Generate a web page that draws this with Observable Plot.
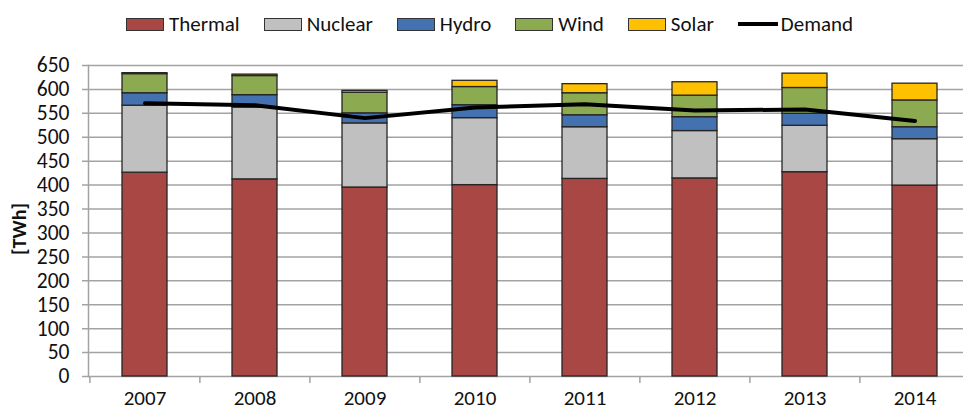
<!DOCTYPE html>
<html>
<head>
<meta charset="utf-8">
<script src="https://cdn.jsdelivr.net/npm/d3@7"></script>
<script src="https://cdn.jsdelivr.net/npm/@observablehq/plot@0.6"></script>
<style>
  html, body { margin: 0; padding: 0; background: #fff; font-family: Carlito, "Liberation Sans Narrow", "DejaVu Sans Condensed", sans-serif; overflow: hidden; }
  #legend { height: 48px; display: flex; align-items: center; padding-left: 126px; font-size: 21px; color: #111; box-sizing: border-box; }
  .item { display: flex; align-items: center; margin-right: 24px; }
  .sw { width: 36px; height: 11px; border: 1px solid #333; margin-right: 5px; }
  .ln { width: 40px; height: 4px; background: #000; margin-right: 3px; }
  #chart svg { display: block; }
</style>
</head>
<body>
<div id="legend"></div>
<div id="chart"></div>
<script>
const years = ["2007", "2008", "2009", "2010", "2011", "2012", "2013", "2014"];
const seriesNames = ["Thermal", "Nuclear", "Hydro", "Wind", "Solar"];
const seriesColors = ["#A94745", "#C0C0C0", "#4472B0", "#8CAA50", "#FFC000"];
const thermal = [426, 412, 395, 400, 413, 414, 427, 399];
const nuclear = [140, 150, 134, 140, 108, 99, 97, 97];
const hydro   = [26, 26, 21, 27, 25, 29, 25, 25];
const wind    = [40, 40, 43, 38, 46, 45, 54, 56];
const solar   = [2, 3, 4, 13, 19, 28, 30, 35];
const demand  = [571, 567, 540, 562, 569, 556, 558, 534];
const yTicks  = [0, 50, 100, 150, 200, 250, 300, 350, 400, 450, 500, 550, 600, 650];

const seriesValues = [thermal, nuclear, hydro, wind, solar];
const rows = [];
years.forEach((y, i) => seriesNames.forEach((s, k) => rows.push({year: y, series: s, value: seriesValues[k][i]})));
const demandRows = years.map((y, i) => ({year: y, value: demand[i]}));

// legend
const legend = document.getElementById("legend");
seriesNames.forEach((s, k) => {
  const it = document.createElement("div"); it.className = "item";
  const sw = document.createElement("div"); sw.className = "sw"; sw.style.background = seriesColors[k];
  const t = document.createElement("span"); t.textContent = s;
  it.append(sw, t); legend.append(it);
});
{
  const it = document.createElement("div"); it.className = "item";
  const ln = document.createElement("div"); ln.className = "ln";
  const t = document.createElement("span"); t.textContent = "Demand";
  it.append(ln, t); legend.append(it);
}

const grid = "#a3a3a3";
const chart = Plot.plot({
  width: 963,
  height: 364,
  marginTop: 17,
  marginBottom: 36,
  marginLeft: 88,
  marginRight: 0,
  style: {fontFamily: 'Carlito, "Liberation Sans Narrow", "DejaVu Sans Condensed", sans-serif', fontSize: "21px", color: "#111", overflow: "visible"},
  x: {domain: years, range: [88.5, 970], paddingInner: 0.59, paddingOuter: 0.295, label: null},
  y: {domain: [0, 650], label: null},
  color: {domain: seriesNames, range: seriesColors},
  marks: [
    Plot.gridY(yTicks, {stroke: grid, strokeOpacity: 1, strokeWidth: 1.5, insetLeft: -6}),
    Plot.frame({anchor: "left", stroke: grid, strokeWidth: 1.5}),
    Plot.axisY(yTicks, {tickSize: 0, tickPadding: 19, label: null, fontSize: 21.5}),
    Plot.axisX({tickSize: 7, tickFormat: () => "", dx: -55.1, stroke: grid, strokeWidth: 1.5, label: null}),
    Plot.axisX({tickSize: 0, tickPadding: 14, label: null, fontSize: 21}),
    Plot.barY(rows, {x: "year", y: "value", fill: "series", stroke: "#262626", strokeWidth: 1.3}),
    Plot.lineY(demandRows, {x: "year", y: "value", stroke: "#000", strokeWidth: 4}),
    Plot.text(["[TWh]"], {frameAnchor: "left", rotate: -90, dx: -69, dy: 8, textAnchor: "middle", lineAnchor: "middle", fontWeight: "bold", fontSize: 20})
  ]
});
document.getElementById("chart").append(chart);
</script>
</body>
</html>
